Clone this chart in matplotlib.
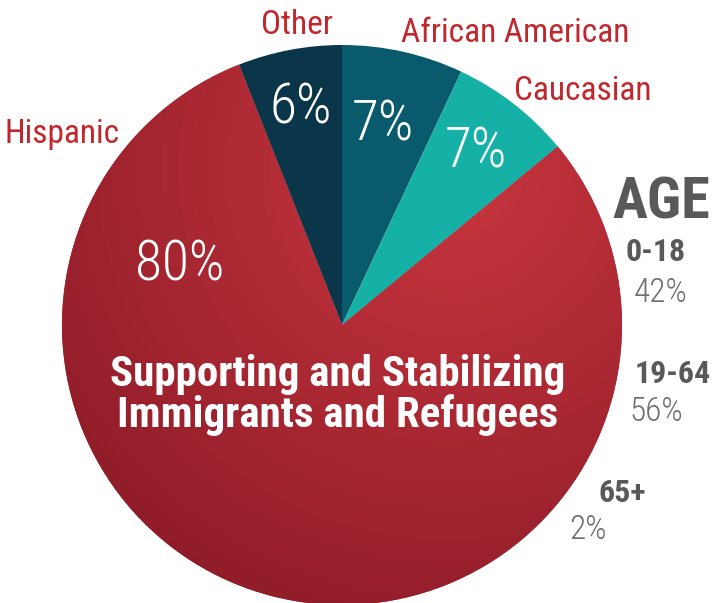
import matplotlib
matplotlib.use('Agg')
import matplotlib.pyplot as plt
from matplotlib import font_manager
import numpy as np

# data
groups = ['African American', 'Caucasian', 'Hispanic', 'Other']
shares = [7, 7, 80, 6]
colors = ['#085a6c', '#15b1a7', '#a81e2d', '#0b3549']
age_groups = ['0-18', '19-64', '65+']
age_shares = [42, 56, 2]
title_lines = ['Supporting and Stabilizing', 'Immigrants and Refugees']

names = {f.name for f in font_manager.fontManager.ttflist}
narrow = 'Roboto'
for cand in ['Roboto Condensed', 'Liberation Sans Narrow', 'Archivo Narrow', 'Barlow Condensed']:
    if cand in names:
        narrow = cand
        break
plt.rcParams['font.family'] = [narrow, 'DejaVu Sans']

W, H = 714, 603
fig = plt.figure(figsize=(W / 100, H / 100), dpi=100)
ax = fig.add_axes([0, 0, 1, 1])

cx, cy, r = 342, H - 325, 280
wedges, _ = ax.pie(shares, colors=colors, startangle=90, counterclock=False,
                   center=(cx, cy), radius=r, frame=True,
                   wedgeprops=dict(linewidth=0))
ax.set_xlim(0, W)
ax.set_ylim(0, H)
ax.set_aspect('equal')
ax.axis('off')

# radial shading on the big red slice
yy, xx = np.mgrid[0:H, 0:W]
d = np.hypot(xx - 450, yy - (H - 170)) / 520
d = np.clip(d, 0, 1)
c0 = np.array([0xc9, 0x36, 0x3e]) / 255
c1 = np.array([0x8a, 0x1a, 0x27]) / 255
img = c0 + (c1 - c0) * d[..., None]
im = ax.imshow(img, extent=(0, W, 0, H), origin='lower', zorder=1.5)
im.set_clip_path(wedges[2])
for w in wedges:
    w.set_zorder(1)

red = '#c1272d'
lab_kw = dict(color=red, fontsize=24, ha='center', va='center')
ax.text(297, H - 25, 'Other', **lab_kw)
ax.text(515, H - 33, 'African American', **lab_kw)
ax.text(583, H - 91, 'Caucasian', **lab_kw)
ax.text(62, H - 134, 'Hispanic', **lab_kw)

pct_pos = {'Other': (301, 108), 'African American': (383, 125),
           'Caucasian': (476, 152), 'Hispanic': (180, 265)}
for g, s in zip(groups, shares):
    x, y = pct_pos[g]
    ax.text(x, H - y, f'{s}%', color='white', fontsize=40, fontweight='light',
            ha='center', va='center', zorder=3)

ax.text(338, H - 395, '\n'.join(title_lines), color='white', fontsize=31,
        fontweight='bold', ha='center', va='center', linespacing=0.95, zorder=3)

grey = '#58595b'
ax.text(661, H - 203, 'AGE', color=grey, fontsize=42, fontweight='heavy',
        ha='center', va='center')
age_pos = [((656, 252), (661, 293)), ((673, 374), (656, 412)), ((622, 493), (588, 530))]
for lab, val, ((lx, ly), (vx, vy)) in zip(age_groups, age_shares, age_pos):
    ax.text(lx, H - ly, lab, color=grey, fontsize=23, fontweight='bold', ha='center', va='center')
    ax.text(vx, H - vy, f'{val}%', color='#6d6e70', fontsize=24, fontweight='light',
            ha='center', va='center')

fig.savefig('out.png', dpi=100)
